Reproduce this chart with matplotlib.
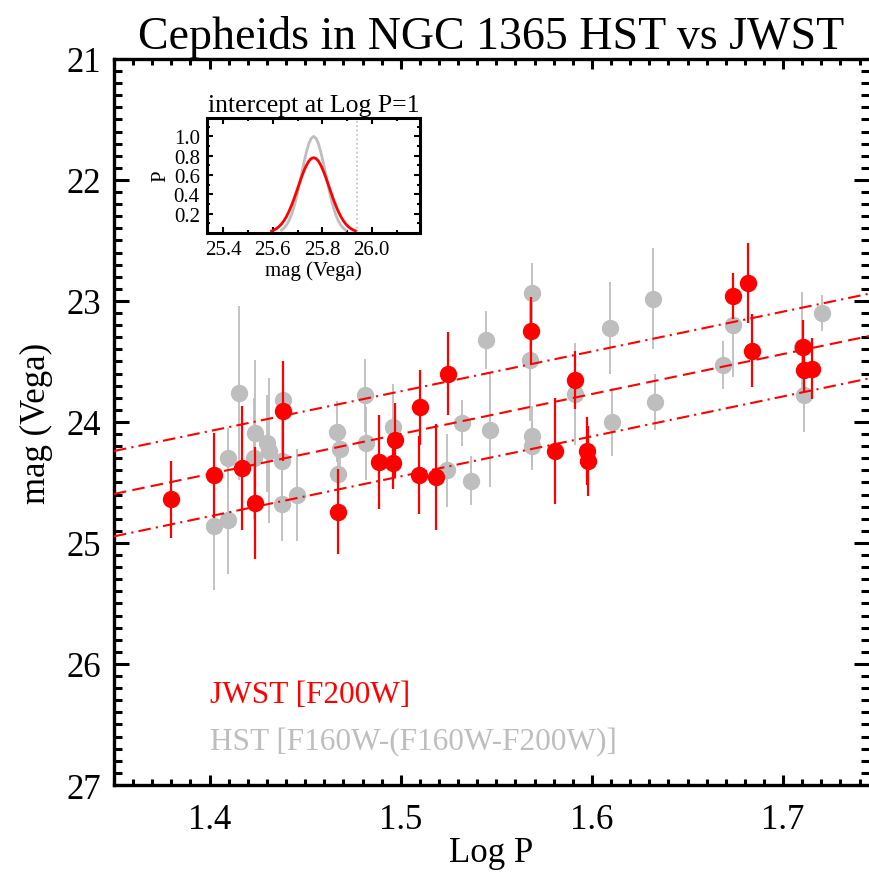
import matplotlib
matplotlib.use("Agg")
import matplotlib.pyplot as plt
import numpy as np
from matplotlib.ticker import MultipleLocator

plt.rcParams['font.family'] = ['Liberation Serif', 'DejaVu Serif']

RED = '#ff0000'
GRAY = '#bebebe'

# JWST F200W cepheids: log P, mag, error
jwst_logp = [1.380, 1.4025, 1.417, 1.424, 1.4384, 1.467, 1.4888, 1.4961, 1.4972,
             1.5097, 1.5102, 1.5184, 1.5246, 1.5679, 1.5807, 1.591, 1.5975, 1.598,
             1.674, 1.6817, 1.6838, 1.7102, 1.711, 1.7151]
jwst_mag = [24.64, 24.44, 24.38, 24.67, 23.91, 24.74, 24.33, 24.34, 24.15,
            24.44, 23.88, 24.455, 23.60, 23.245, 24.24, 23.65, 24.24, 24.32,
            22.96, 22.85, 23.41, 23.38, 23.57, 23.56]
jwst_err = [0.32, 0.35, 0.51, 0.46, 0.41, 0.35, 0.39, 0.21, 0.31,
            0.32, 0.31, 0.44, 0.34, 0.28, 0.44, 0.24, 0.28, 0.29,
            0.19, 0.33, 0.30, 0.22, 0.18, 0.25]

# HST F160W-(F160W-F200W)
hst_logp = [1.4025, 1.4095, 1.4095, 1.4156, 1.423, 1.424, 1.430, 1.431, 1.438,
            1.438, 1.4386, 1.4456, 1.4667, 1.4684, 1.4674, 1.4812, 1.482, 1.496,
            1.524, 1.532, 1.5368, 1.5447, 1.5468, 1.5675, 1.5688, 1.5684, 1.5684,
            1.591, 1.6095, 1.6105, 1.632, 1.633, 1.6686, 1.6739, 1.710, 1.711, 1.7205]
hst_mag = [24.857, 24.30, 24.81, 23.76, 24.30, 24.09, 24.176, 24.237, 24.32,
           24.68, 23.82, 24.60, 24.08, 24.22, 24.43, 23.78, 24.176, 24.04,
           24.40, 24.01, 24.485, 23.32, 24.066, 23.49, 22.936, 24.12, 24.20,
           23.77, 23.226, 24.003, 22.98, 23.837, 23.53, 23.196, 23.38, 23.78, 23.10]
hst_err = [0.53, 0.25, 0.45, 0.72, 0.50, 0.60, 0.40, 0.60, 0.35,
           0.30, 0.25, 0.38, 0.25, 0.20, 0.30, 0.30, 0.30, 0.35,
           0.30, 0.19, 0.20, 0.24, 0.47, 0.50, 0.25, 0.25, 0.20,
           0.42, 0.38, 0.28, 0.42, 0.23, 0.20, 0.43, 0.45, 0.30, 0.15]

# fitted PL relation and its scatter band (end points)
line_x = [1.35, 1.745]
fit_mid = [24.595, 23.29]
fit_up = [24.24, 22.94]
fit_lo = [24.945, 23.64]

# inset: intercept probability at log P = 1
red_pdf_x = [25.595, 25.605, 25.615, 25.625, 25.635, 25.645, 25.655, 25.665, 25.675,
             25.685, 25.695, 25.705, 25.715, 25.725, 25.735, 25.745, 25.755, 25.765,
             25.775, 25.785, 25.795, 25.805, 25.815, 25.825, 25.835, 25.845, 25.855,
             25.865, 25.875, 25.885, 25.895, 25.905, 25.915, 25.925, 25.935]
red_pdf_y = [0.020, 0.031, 0.046, 0.066, 0.093, 0.127, 0.170, 0.221, 0.281,
             0.348, 0.421, 0.496, 0.569, 0.638, 0.696, 0.742, 0.770, 0.780,
             0.770, 0.742, 0.696, 0.638, 0.569, 0.496, 0.421, 0.348, 0.281,
             0.221, 0.170, 0.127, 0.093, 0.066, 0.046, 0.031, 0.020]
gray_pdf_x = [25.635, 25.645, 25.655, 25.665, 25.675, 25.685, 25.695, 25.705, 25.715,
              25.725, 25.735, 25.745, 25.755, 25.765, 25.775, 25.785, 25.795, 25.805,
              25.815, 25.825, 25.835, 25.845, 25.855, 25.865, 25.875, 25.885, 25.895]
gray_pdf_y = [0.030, 0.050, 0.081, 0.125, 0.185, 0.264, 0.360, 0.472, 0.594,
              0.717, 0.829, 0.920, 0.979, 1.000, 0.979, 0.920, 0.829, 0.717,
              0.594, 0.472, 0.360, 0.264, 0.185, 0.125, 0.081, 0.050, 0.030]
ref_mag = 25.94

fig = plt.figure(figsize=(8.7, 8.79), dpi=100)
ax = fig.add_axes([0.131, 0.1058, 0.868, 0.826])

ax.errorbar(hst_logp, hst_mag, yerr=hst_err, fmt='o', color=GRAY, ms=11.5,
            mec=GRAY, elinewidth=1.3, capsize=0, zorder=2)
ax.plot(line_x, fit_mid, color=RED, lw=1.5, dashes=(6, 3), zorder=3)
ax.plot(line_x, fit_up, color=RED, lw=1.5, dashes=(6, 2.5, 1, 2.5), zorder=3)
ax.plot(line_x, fit_lo, color=RED, lw=1.5, dashes=(6, 2.5, 1, 2.5), zorder=3)
ax.errorbar(jwst_logp, jwst_mag, yerr=jwst_err, fmt='o', color=RED, ms=11.5,
            mec=RED, elinewidth=1.6, capsize=0, zorder=4)

ax.set_xlim(1.35, 1.745)
ax.set_ylim(27, 21)
ax.xaxis.set_major_locator(MultipleLocator(0.1))
ax.xaxis.set_minor_locator(MultipleLocator(0.01))
ax.yaxis.set_major_locator(MultipleLocator(1))
ax.yaxis.set_minor_locator(MultipleLocator(0.1))
ax.tick_params(axis='both', which='both', direction='in', top=True, right=True,
               width=2.2, labelsize=25)
ax.tick_params(axis='x', which='major', length=7, pad=13)
ax.tick_params(axis='x', which='minor', length=4.5)
ax.tick_params(axis='y', which='major', length=11, pad=9)
ax.tick_params(axis='y', which='minor', length=6)
for s in ax.spines.values():
    s.set_linewidth(2.4)
ax.spines['right'].set_visible(False)

ax.set_xlabel('Log P', fontsize=25, labelpad=0)
ax.set_ylabel('mag (Vega)', fontsize=25, labelpad=10)
ax.set_title('Cepheids in NGC 1365 HST vs JWST', fontsize=33, pad=8)

ax.text(0.127, 0.114, 'JWST [F200W]', color=RED, fontsize=22.5, transform=ax.transAxes)
ax.text(0.127, 0.049, 'HST [F160W-(F160W-F200W)]', color=GRAY, fontsize=22.5,
        transform=ax.transAxes)

# inset
ins = fig.add_axes([0.2376, 0.7338, 0.2452, 0.1308])
ins.plot(gray_pdf_x, gray_pdf_y, color=GRAY, lw=2)
ins.plot(red_pdf_x, red_pdf_y, color=RED, lw=2)
ins.axvline(ref_mag, color=GRAY, lw=1.2, ls=':')
ins.set_xlim(25.333, 26.195)
ins.set_ylim(0, 1.19)
ins.set_xticks([25.4, 25.6, 25.8, 26.0])
ins.set_xticklabels(['25.4', '25.6', '25.8', '26.0'])
ins.set_yticks([0.2, 0.4, 0.6, 0.8, 1.0])
ins.set_yticklabels(['0.2', '0.4', '0.6', '0.8', '1.0'])
ins.xaxis.set_minor_locator(MultipleLocator(0.1))
ins.yaxis.set_minor_locator(MultipleLocator(0.1))
ins.tick_params(axis='both', which='both', direction='in', top=True, right=True,
                width=1.5, labelsize=15, pad=5)
ins.tick_params(which='major', length=4)
ins.tick_params(which='minor', length=2)
for s in ins.spines.values():
    s.set_linewidth(2.2)
ins.set_xlabel('mag (Vega)', fontsize=15, labelpad=1)
ins.set_ylabel('P', fontsize=15, labelpad=2)
ins.set_title('intercept at Log P=1', fontsize=18.5, pad=5)

fig.savefig('out.png', dpi=100)
